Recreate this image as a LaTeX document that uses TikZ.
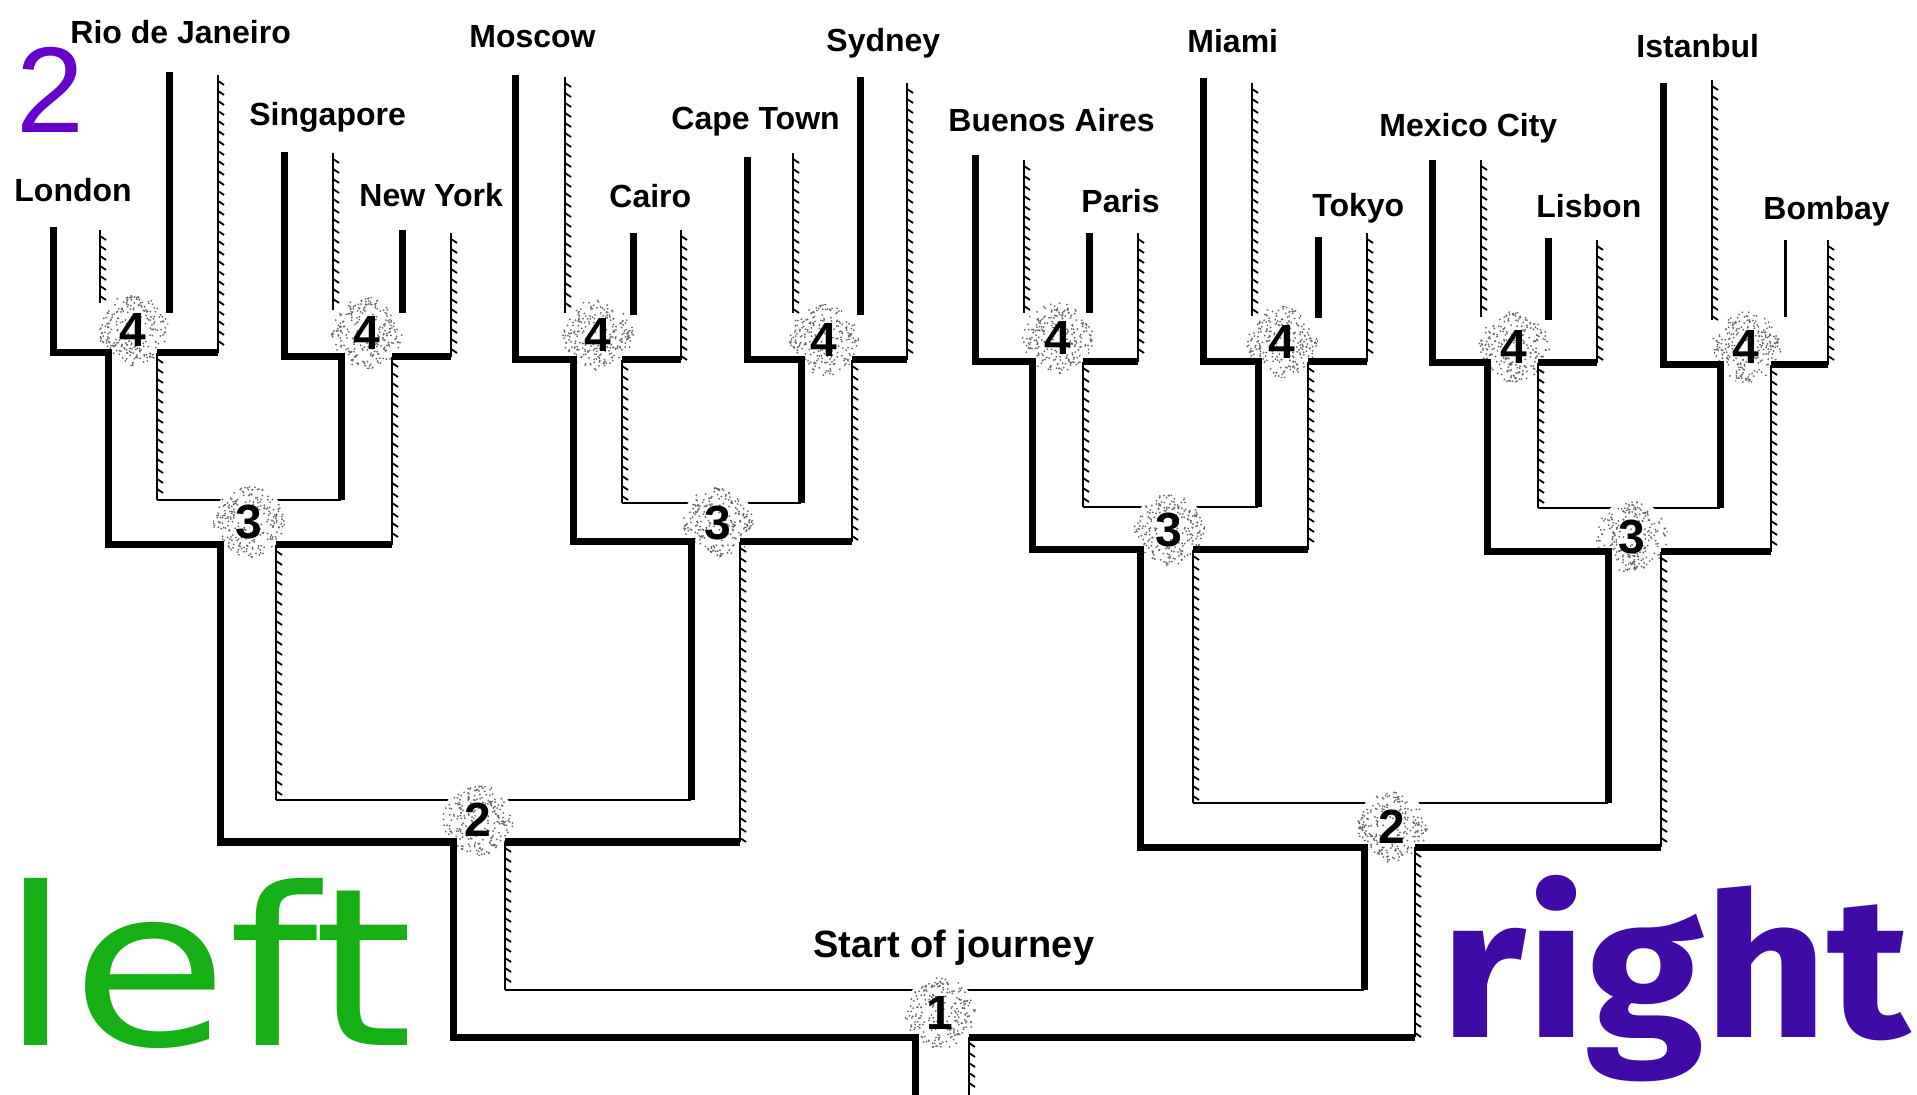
\documentclass[tikz,border=0pt]{standalone}
\usepackage{fontspec}
\usepackage{graphicx}
\usetikzlibrary{decorations.markings}
\newfontfamily\mazefont{Liberation Sans}
\newfontfamily\leftfont{DejaVu Sans}
\newfontfamily\rightfont{Fira Sans}
\definecolor{leftgreen}{RGB}{22,176,22}
\definecolor{rightpurple}{RGB}{64,10,166}
\definecolor{pagepurple}{RGB}{102,0,204}
\tikzset{
	wall/.style={line width=3.5pt},
	thinwall/.style={line width=1.3pt},
	hatchwall/.style={line width=1pt, postaction={decorate, decoration={markings,
		mark=between positions 3pt and -2pt step 5pt with {\draw[line width=0.9pt] (0pt,0pt) -- (2pt,3pt);}}}},
	spot/.style={circle, fill=white, minimum size=36pt, inner sep=0pt,
		font=\mazefont\bfseries\fontsize{24}{24}\selectfont,
		path picture={\foreach \k in {1,...,240}{\fill[black!60] (path picture bounding box.center) ++({360*rnd}:{36*sqrt(rnd)}) circle (0.5pt);}}},
	city/.style={anchor=base west, inner sep=0pt, font=\mazefont\bfseries\fontsize{16}{16}\selectfont},
}
\begin{document}
\begin{tikzpicture}[x=0.5pt, y=-0.5pt]
\useasboundingbox (0,0) rectangle (1917,1095);
\pgfmathsetseed{7}
% top walls of the junctions
\draw[thinwall] (157,500)--(341,500);
\draw[thinwall] (622,503)--(801,503);
\draw[thinwall] (1083,507)--(1258,507);
\draw[thinwall] (1538,508)--(1720,508);
\draw[thinwall] (276,800)--(691,800);
\draw[thinwall] (1193,803)--(1608,803);
\draw[thinwall] (505,990)--(1364,990);
% junctions
\node[spot] (j4a) at (133,330) {4};
\node[spot] (j4b) at (367,333) {4};
\node[spot] (j4c) at (598,335) {4};
\node[spot] (j4d) at (824,340) {4};
\node[spot] (j4e) at (1058,338) {4};
\node[spot] (j4f) at (1282,342) {4};
\node[spot] (j4g) at (1514,347) {4};
\node[spot] (j4h) at (1746,347) {4};
\node[spot] (j3a) at (249,522) {3};
\node[spot] (j3b) at (718,523) {3};
\node[spot] (j3c) at (1169,530) {3};
\node[spot] (j3d) at (1632,537) {3};
\node[spot] (j2a) at (478,820) {2};
\node[spot] (j2b) at (1392,827) {2};
\node[spot] (j1) at (940,1013) {1};
% thick walls
\draw[wall] (53,227)--(53,353)--(108,353)--(108,545)--(220,545)--(220,842)--(453,842)--(453,1037)--(915,1037)--(915,1095);
\draw[wall] (169,72)--(169,313);
\draw[wall] (157,353)--(218,353);
\draw[wall] (284,152)--(284,357)--(341,357)--(341,500);
\draw[wall] (402,230)--(402,313);
\draw[wall] (392,357)--(451,357);
\draw[wall] (276,545)--(392,545);
\draw[wall] (515,75)--(515,360)--(573,360)--(573,542)--(691,542)--(691,800);
\draw[wall] (633,233)--(633,315);
\draw[wall] (622,360)--(681,360);
\draw[wall] (747,157)--(747,360)--(801,360)--(801,503);
\draw[wall] (860,77)--(860,315);
\draw[wall] (852,360)--(907,360);
\draw[wall] (740,542)--(852,542);
\draw[wall] (505,842)--(740,842);
\draw[wall] (969,1037)--(1415,1037);
\draw[wall] (975,155)--(975,362)--(1032,362)--(1032,550)--(1140,550)--(1140,847)--(1364,847)--(1364,990);
\draw[wall] (1089,233)--(1089,313);
\draw[wall] (1083,362)--(1138,362);
\draw[wall] (1203,78)--(1203,362)--(1258,362)--(1258,507);
\draw[wall] (1318,237)--(1318,318);
\draw[wall] (1308,362)--(1367,362);
\draw[wall] (1193,550)--(1308,550);
\draw[wall] (1432,160)--(1432,363)--(1487,363)--(1487,552)--(1608,552)--(1608,803);
\draw[wall] (1548,238)--(1548,320);
\draw[wall] (1538,363)--(1597,363);
\draw[wall] (1663,83)--(1663,365)--(1720,365)--(1720,508);
\draw[line width=1.5pt] (1785,240)--(1785,317);
\draw[wall] (1771,365)--(1828,365);
\draw[wall] (1661,552)--(1771,552);
\draw[wall] (1415,847)--(1661,847);
% hatched walls
\draw[hatchwall] (100,230)--(100,303);
\draw[hatchwall] (218,75)--(218,353);
\draw[hatchwall] (157,353)--(157,500);
\draw[hatchwall] (333,153)--(333,310);
\draw[hatchwall] (451,233)--(451,357);
\draw[hatchwall] (392,357)--(392,545);
\draw[hatchwall] (276,545)--(276,800);
\draw[hatchwall] (565,77)--(565,313);
\draw[hatchwall] (681,230)--(681,360);
\draw[hatchwall] (622,360)--(622,503);
\draw[hatchwall] (793,153)--(793,313);
\draw[hatchwall] (907,83)--(907,360);
\draw[hatchwall] (852,360)--(852,542);
\draw[hatchwall] (740,542)--(740,842);
\draw[hatchwall] (505,842)--(505,990);
\draw[hatchwall] (1024,160)--(1024,313);
\draw[hatchwall] (1138,233)--(1138,362);
\draw[hatchwall] (1083,362)--(1083,507);
\draw[hatchwall] (1252,83)--(1252,316);
\draw[hatchwall] (1367,233)--(1367,362);
\draw[hatchwall] (1308,362)--(1308,550);
\draw[hatchwall] (1193,550)--(1193,803);
\draw[hatchwall] (1481,160)--(1481,317);
\draw[hatchwall] (1597,240)--(1597,363);
\draw[hatchwall] (1538,363)--(1538,508);
\draw[hatchwall] (1712,80)--(1712,320);
\draw[hatchwall] (1828,240)--(1828,365);
\draw[hatchwall] (1771,365)--(1771,552);
\draw[hatchwall] (1661,552)--(1661,847);
\draw[hatchwall] (1415,847)--(1415,1037);
\draw[hatchwall] (969,1037)--(969,1095);
% cities
\node[city] (london) at (14,202) {London};
\node[city] (rio) at (70,44) {Rio de Janeiro};
\node[city] (singapore) at (249,126) {Singapore};
\node[city] (newyork) at (359,207) {New York};
\node[city] (moscow) at (469,48) {Moscow};
\node[city] (cairo) at (609,208) {Cairo};
\node[city] (capetown) at (671,130) {Cape Town};
\node[city] (sydney) at (826,52) {Sydney};
\node[city] (buenosaires) at (948,132) {Buenos Aires};
\node[city] (paris) at (1081,213) {Paris};
\node[city] (miami) at (1187,53) {Miami};
\node[city] (tokyo) at (1312,217) {Tokyo};
\node[city] (mexicocity) at (1379,137) {Mexico City};
\node[city] (lisbon) at (1536,218) {Lisbon};
\node[city] (istanbul) at (1636,58) {Istanbul};
\node[city] (bombay) at (1763,220) {Bombay};
\node[city, font=\mazefont\bfseries\fontsize{19}{19}\selectfont] (start) at (813,957) {Start of journey};
% words
\node[anchor=base west, inner sep=0pt, text=pagepurple, font=\mazefont\fontsize{61}{61}\selectfont] (page) at (16,133) {2};
\node[anchor=base west, inner sep=0pt, text=leftgreen, font=\leftfont\fontsize{110}{110}\selectfont] (leftword) at (0,1045) {\scalebox{1.16}[1]{left}};
\node[anchor=base west, inner sep=0pt, text=rightpurple, font=\rightfont\bfseries\fontsize{100}{100}\selectfont] (rightword) at (1440,1037) {\scalebox{1.07}[1]{right}};
\end{tikzpicture}
\end{document}
